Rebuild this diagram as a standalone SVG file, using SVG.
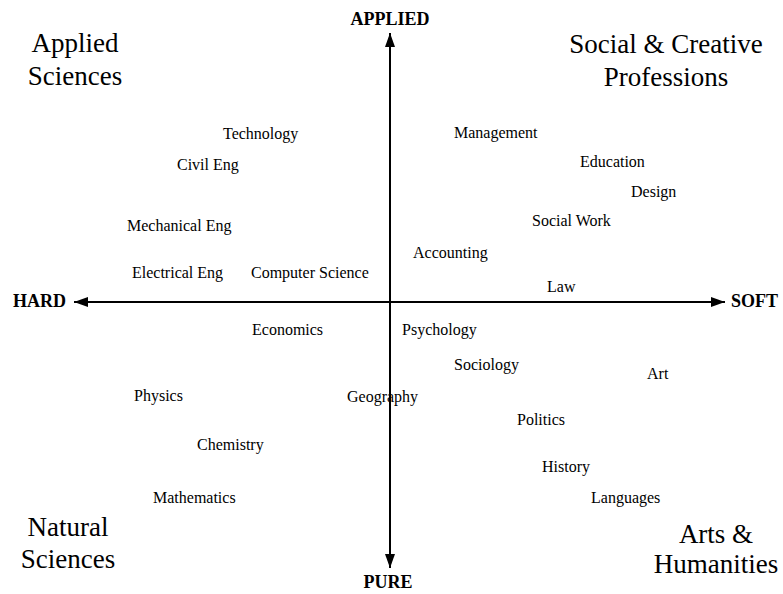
<svg xmlns="http://www.w3.org/2000/svg" width="783" height="594" viewBox="0 0 783 594" font-family="'Liberation Serif', 'Times New Roman', 'DejaVu Serif', serif">
<style>
.lbl{font-size:16px}
.quad{font-size:27px;text-anchor:middle}
.axis{font-size:18px;font-weight:bold}
.ax{stroke:#000;stroke-width:2;fill:none}
</style>
<defs>
<marker id="ah" markerUnits="userSpaceOnUse" markerWidth="15" markerHeight="11" refX="14" refY="5" orient="auto-start-reverse">
<path d="M0,0 L14,5 L0,10 z" fill="#000"/>
</marker>
</defs>
<rect width="783" height="594" fill="#fff"/>
<g id="quadrants">
<text class="quad" x="75" y="52">Applied</text>
<text class="quad" x="75" y="85">Sciences</text>
<text class="quad" x="666" y="53">Social &amp; Creative</text>
<text class="quad" x="666" y="86">Professions</text>
<text class="quad" x="68" y="536">Natural</text>
<text class="quad" x="68" y="568">Sciences</text>
<text class="quad" x="716" y="543">Arts &amp;</text>
<text class="quad" x="716" y="573">Humanities</text>
</g>
<g id="axis-labels">
<text class="axis" x="390" y="25" text-anchor="middle">APPLIED</text>
<text class="axis" x="388" y="588" text-anchor="middle">PURE</text>
<text class="axis" x="13" y="307">HARD</text>
<text class="axis" x="731" y="307">SOFT</text>
</g>
<g id="technology"><text class="lbl" x="223" y="139">Technology</text></g>
<g id="civil-eng"><text class="lbl" x="177" y="170">Civil Eng</text></g>
<g id="mechanical-eng"><text class="lbl" x="127" y="231">Mechanical Eng</text></g>
<g id="electrical-eng"><text class="lbl" x="132" y="278">Electrical Eng</text></g>
<g id="computer-science"><text class="lbl" x="251" y="278">Computer Science</text></g>
<g id="management"><text class="lbl" x="454" y="138">Management</text></g>
<g id="education"><text class="lbl" x="580" y="167">Education</text></g>
<g id="design"><text class="lbl" x="631" y="197">Design</text></g>
<g id="social-work"><text class="lbl" x="532" y="226">Social Work</text></g>
<g id="accounting"><text class="lbl" x="413" y="258">Accounting</text></g>
<g id="law"><text class="lbl" x="547" y="292">Law</text></g>
<g id="economics"><text class="lbl" x="252" y="335">Economics</text></g>
<g id="physics"><text class="lbl" x="134" y="401">Physics</text></g>
<g id="geography"><text class="lbl" x="347" y="402">Geography</text></g>
<g id="chemistry"><text class="lbl" x="197" y="450">Chemistry</text></g>
<g id="mathematics"><text class="lbl" x="153" y="503">Mathematics</text></g>
<g id="psychology"><text class="lbl" x="402" y="335">Psychology</text></g>
<g id="sociology"><text class="lbl" x="454" y="370">Sociology</text></g>
<g id="art"><text class="lbl" x="647" y="379">Art</text></g>
<g id="politics"><text class="lbl" x="517" y="425">Politics</text></g>
<g id="history"><text class="lbl" x="542" y="472">History</text></g>
<g id="languages"><text class="lbl" x="591" y="503">Languages</text></g>
<g id="connectors">
<line class="ax" x1="390" y1="33" x2="390" y2="568" marker-start="url(#ah)" marker-end="url(#ah)"/>
<line class="ax" x1="74" y1="302" x2="725" y2="302" marker-start="url(#ah)" marker-end="url(#ah)"/>
</g>
</svg>
